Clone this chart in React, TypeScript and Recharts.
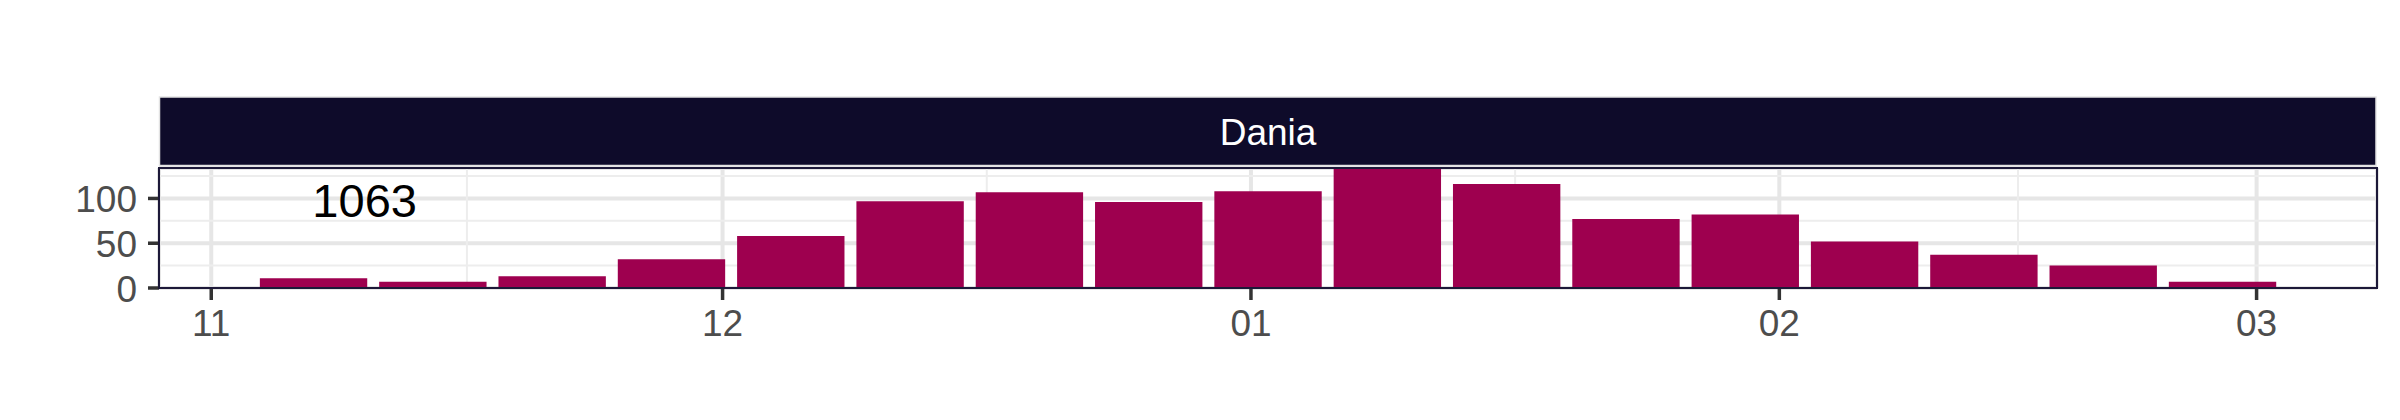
import React from 'react';
import { ComposedChart, Bar, XAxis, YAxis, CartesianGrid, ReferenceLine, ReferenceDot } from 'recharts';

// ---- data ----
const weekDates = [
  '2022-11-07', '2022-11-14', '2022-11-21', '2022-11-28',
  '2022-12-05', '2022-12-12', '2022-12-19', '2022-12-26',
  '2023-01-02', '2023-01-09', '2023-01-16', '2023-01-23', '2023-01-30',
  '2023-02-06', '2023-02-13', '2023-02-20', '2023-02-27',
];
const weekCounts = [11, 7, 13, 32, 58, 97, 107, 96, 108, 134, 116, 77, 82, 52, 37, 25, 7];
const monthTicks = ['2022-11-01', '2022-12-01', '2023-01-01', '2023-02-01', '2023-03-01'];
const monthLabels = ['11', '12', '01', '02', '03'];
const yTicks = [0, 50, 100];
const yMinorTicks = [25, 75, 125];
const yMax = 134;
const panelTitle = 'Dania';
const totalLabel = '1063';
const totalLabelDate = '2022-11-10';
const totalLabelY = 97.7;

// ---- layout / style ----
const W = 2400;
const H = 420;
const MARGIN = { top: 168, right: 23, bottom: 72, left: 0 };
const Y_AXIS_W = 159;
const X_AXIS_H = 60;
const PLOT_W = W - MARGIN.right - MARGIN.left - Y_AXIS_W;
const PLOT_H = H - MARGIN.top - MARGIN.bottom - X_AXIS_H;
const PLOT_BOTTOM = MARGIN.top + PLOT_H;
const FONT = '"Liberation Sans", Arial, Helvetica, sans-serif';
const AXIS_FS = 37;
const BAR_FILL = '#9E004F';
const STRIP_FILL = '#0E0B2A';
const BORDER = '#1C1838';
const GRID_MAJOR = '#E6E6E6';
const GRID_MINOR = '#EDEDED';
const TICK_COLOR = '#333333';
const LABEL_COLOR = '#4D4D4D';

const DAY = 86400000;
const ts = (s: string) => {
  const [y, m, d] = s.split('-').map(Number);
  return Date.UTC(y, m - 1, d);
};

const data = weekDates.map((d, i) => ({ t: ts(d), n: weekCounts[i] }));
const tickTs = monthTicks.map(ts);
const minorXTs = tickTs.slice(1).map((v, i) => (v + tickTs[i]) / 2);

const binWidth = 7 * DAY * 0.9;
const lo = data[0].t - binWidth / 2;
const hi = data[data.length - 1].t + binWidth / 2;
const pad = (hi - lo) * 0.05;
const xDomain: [number, number] = [lo - pad, hi + pad];
const barPx = (PLOT_W * binWidth) / (xDomain[1] - xDomain[0]);

const labelFor = (v: number) => {
  const i = tickTs.indexOf(v);
  return i >= 0 ? monthLabels[i] : '';
};

const YTick = (props: any) => {
  const { y, payload } = props;
  const x2 = MARGIN.left + Y_AXIS_W;
  return (
    <g>
      <line x1={x2 - 11} x2={x2} y1={y} y2={y} stroke={TICK_COLOR} strokeWidth={3.5} />
      <text
        x={x2 - 11 - 11}
        y={y + 13.5}
        textAnchor="end"
        fontSize={AXIS_FS}
        fontFamily={FONT}
        fill={LABEL_COLOR}
      >
        {payload.value}
      </text>
    </g>
  );
};

const XTick = (props: any) => {
  const { x, payload } = props;
  return (
    <g>
      <line x1={x} x2={x} y1={PLOT_BOTTOM} y2={PLOT_BOTTOM + 12} stroke={TICK_COLOR} strokeWidth={3.5} />
      <text
        x={x}
        y={PLOT_BOTTOM + 48}
        textAnchor="middle"
        fontSize={AXIS_FS}
        fontFamily={FONT}
        fill={LABEL_COLOR}
      >
        {labelFor(payload.value)}
      </text>
    </g>
  );
};

const TotalLabel = (props: any) => {
  const vb = props.viewBox || {};
  const cx = (vb.x ?? 0) + (vb.width ?? 0) / 2;
  const cy = (vb.y ?? 0) + (vb.height ?? 0) / 2;
  return (
    <text x={cx} y={cy + 0.355 * 47} textAnchor="middle" fontSize={47} fontFamily={FONT} fill="#000000">
      {totalLabel}
    </text>
  );
};

export default function App() {
  const plotLeft = MARGIN.left + Y_AXIS_W;
  const plotTop = MARGIN.top;
  return (
    <div style={{ position: 'absolute', left: 0, top: 0, width: W, height: H, background: '#fff', fontFamily: FONT }}>
      <ComposedChart width={W} height={H} margin={MARGIN} data={data}>
        <CartesianGrid stroke={GRID_MAJOR} strokeWidth={4} />
        {yMinorTicks.map((v) => (
          <ReferenceLine key={'my' + v} y={v} stroke={GRID_MINOR} strokeWidth={2} zIndex={-100} />
        ))}
        {minorXTs.map((v) => (
          <ReferenceLine key={'mx' + v} x={v} stroke={GRID_MINOR} strokeWidth={2} zIndex={-100} />
        ))}
        <XAxis
          type="number"
          dataKey="t"
          domain={xDomain}
          allowDataOverflow
          ticks={tickTs}
          interval={0}
          height={X_AXIS_H}
          axisLine={false}
          tickLine={false}
          tick={<XTick />}
        />
        <YAxis
          type="number"
          domain={[0, yMax]}
          allowDataOverflow
          ticks={yTicks}
          interval={0}
          width={Y_AXIS_W}
          axisLine={false}
          tickLine={false}
          tick={<YTick />}
        />
        <Bar dataKey="n" fill={BAR_FILL} barSize={barPx} isAnimationActive={false} />
        <ReferenceDot
          x={ts(totalLabelDate)}
          y={totalLabelY}
          r={0}
          fill="none"
          stroke="none"
          label={<TotalLabel />}
        />
      </ComposedChart>
      <svg
        width={W}
        height={H}
        style={{ position: 'absolute', left: 0, top: 0, pointerEvents: 'none' }}
      >
        <rect
          x={plotLeft + 0.5}
          y={97}
          width={PLOT_W - 1.5}
          height={68.5}
          fill={STRIP_FILL}
          stroke="#E3E3E3"
          strokeWidth={1.5}
        />
        <text
          x={plotLeft + PLOT_W / 2}
          y={145}
          textAnchor="middle"
          fill="#FFFFFF"
          fontSize={37}
          fontFamily={FONT}
        >
          {panelTitle}
        </text>
        <rect
          x={plotLeft}
          y={plotTop}
          width={PLOT_W}
          height={PLOT_H}
          fill="none"
          stroke={BORDER}
          strokeWidth={2}
        />
      </svg>
    </div>
  );
}
